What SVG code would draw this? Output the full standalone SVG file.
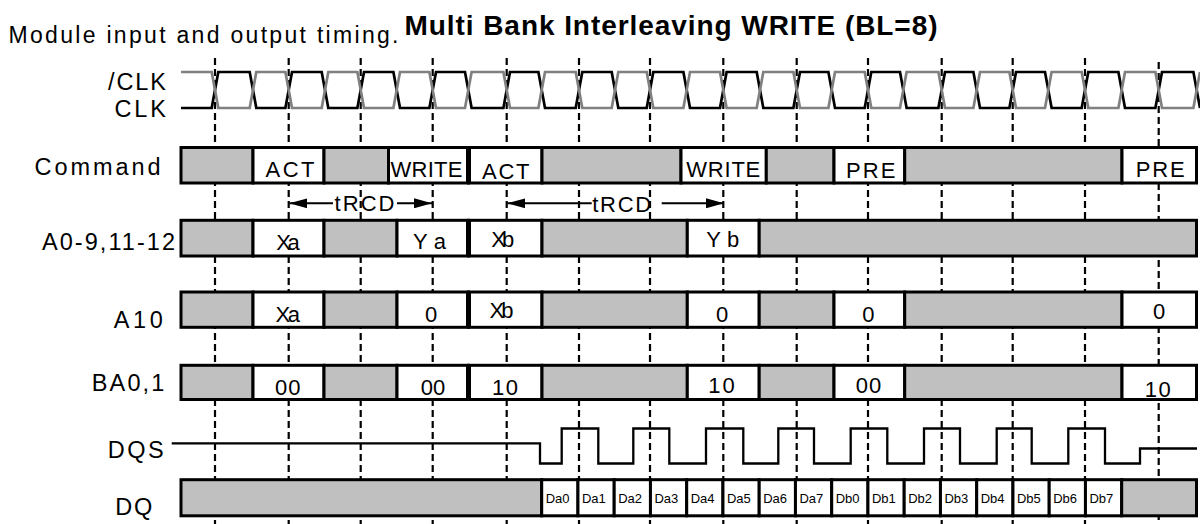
<svg xmlns="http://www.w3.org/2000/svg" width="1200" height="524" viewBox="0 0 1200 524">
<style>
text{font-family:"Liberation Sans",Arial,Helvetica,sans-serif;fill:#000}
.lbl{font-size:23.5px}
.ct{font-size:22px}
.dqt{font-size:13px}
.g{fill:#c0c0c0;stroke:#000;stroke-width:3}
.w{fill:#fff;stroke:#000;stroke-width:3}
.div{stroke:#000;stroke-width:5}
.grid{stroke:#000;stroke-width:2.2;stroke-dasharray:7 4;fill:none}
.clk{fill:none;stroke-width:2.7;stroke-linejoin:miter}
.sig{fill:none;stroke:#000;stroke-width:2.3}
.arr{stroke:#000;stroke-width:2;fill:none}
</style>
<defs>
<marker id="ah" markerUnits="userSpaceOnUse" markerWidth="18" markerHeight="10" refX="18" refY="5" orient="auto">
<path d="M0,0 L18,5 L0,10 z" fill="#000"/>
</marker>
</defs>
<rect width="1200" height="524" fill="#fff"/>
<text x="8.5" y="43.3" font-size="23" textLength="390">Module input and output timing.</text>
<text x="404.5" y="35" font-size="28" font-weight="bold" textLength="533">Multi Bank Interleaving WRITE (BL=8)</text>

<g id="grid" class="grid">
<line x1="215" y1="58" x2="215" y2="524"/>
<line x1="288.7" y1="58" x2="288.7" y2="524"/>
<line x1="360.7" y1="58" x2="360.7" y2="524"/>
<line x1="432.7" y1="58" x2="432.7" y2="524"/>
<line x1="506.7" y1="58" x2="506.7" y2="524"/>
<line x1="579" y1="58" x2="579" y2="524"/>
<line x1="650" y1="58" x2="650" y2="524"/>
<line x1="723.3" y1="58" x2="723.3" y2="524"/>
<line x1="796.7" y1="58" x2="796.7" y2="524"/>
<line x1="868" y1="58" x2="868" y2="524"/>
<line x1="941.7" y1="58" x2="941.7" y2="524"/>
<line x1="1012.7" y1="58" x2="1012.7" y2="524"/>
<line x1="1085" y1="58" x2="1085" y2="524"/>
<line x1="1158.7" y1="62" x2="1158.7" y2="524"/>
</g>

<g id="clock">
<text class="lbl" x="108" y="90" textLength="58">/CLK</text>
<text class="lbl" x="114.5" y="116.7" textLength="51.5">CLK</text>
<path class="clk" stroke="#000" d="M181,108 H211.7 L218.3,72 H249.7 L256.3,108 H285.4 L292,72 H321.7 L328.3,108 H357.4 L364,72 H393.4 L400,108 H429.4 L436,72 H465 L471.6,108 H503.4 L510,72 H538.4 L545,108 H575.7 L582.3,72 H611.7 L618.3,108 H646.7 L653.3,72 H683.4 L690,108 H720 L726.6,72 H756.7 L763.3,108 H793.4 L800,72 H828.4 L835,108 H864.7 L871.3,72 H900 L906.6,108 H938.4 L945,72 H973.4 L980,108 H1009.4 L1016,72 H1045 L1051.6,108 H1081.7 L1088.3,72 H1118.4 L1125,108 H1155.4 L1162,72 H1193.4 L1200,108"/>
<path class="clk" stroke="#808080" d="M181,72 H211.7 L218.3,108 H249.7 L256.3,72 H285.4 L292,108 H321.7 L328.3,72 H357.4 L364,108 H393.4 L400,72 H429.4 L436,108 H465 L471.6,72 H503.4 L510,108 H538.4 L545,72 H575.7 L582.3,108 H611.7 L618.3,72 H646.7 L653.3,108 H683.4 L690,72 H720 L726.6,108 H756.7 L763.3,72 H793.4 L800,108 H828.4 L835,72 H864.7 L871.3,108 H900 L906.6,72 H938.4 L945,108 H973.4 L980,72 H1009.4 L1016,108 H1045 L1051.6,72 H1081.7 L1088.3,108 H1118.4 L1125,72 H1155.4 L1162,108 H1193.4 L1200,72"/>
</g>

<g id="command">
<text class="lbl" x="34.5" y="175" textLength="126">Command</text>
<rect class="g" x="181" y="147.5" width="72" height="35.5"/>
<rect class="w" x="253" y="147.5" width="71" height="35.5"/>
<rect class="g" x="324" y="147.5" width="64.5" height="35.5"/>
<rect class="w" x="388.5" y="147.5" width="80" height="35.5"/>
<rect class="w" x="468.5" y="147.5" width="73.5" height="35.5"/>
<rect class="g" x="542" y="147.5" width="139" height="35.5"/>
<rect class="w" x="681" y="147.5" width="85.3" height="35.5"/>
<rect class="g" x="766.3" y="147.5" width="67.7" height="35.5"/>
<rect class="w" x="834" y="147.5" width="70.7" height="35.5"/>
<rect class="g" x="904.7" y="147.5" width="217.3" height="35.5"/>
<rect class="w" x="1122" y="147.5" width="74.5" height="35.5"/>
<line class="div" x1="468.5" y1="147.5" x2="468.5" y2="183"/>
<text class="ct" x="265.5" y="177.3" textLength="49">ACT</text>
<text class="ct" x="390.5" y="176.7" textLength="72">WRITE</text>
<text class="ct" x="482" y="179" textLength="47.5">ACT</text>
<text class="ct" x="686.3" y="176.7" textLength="74">WRITE</text>
<text class="ct" x="846" y="178.3" textLength="49.5">PRE</text>
<text class="ct" x="1135.7" y="176.7" textLength="49">PRE</text>
</g>

<g id="a0-9">
<text class="lbl" x="42" y="250" textLength="133">A0-9,11-12</text>
<rect class="g" x="181" y="220.3" width="72" height="35.7"/>
<rect class="w" x="253" y="220.3" width="71" height="35.7"/>
<rect class="g" x="324" y="220.3" width="73" height="35.7"/>
<rect class="w" x="397" y="220.3" width="71.5" height="35.7"/>
<rect class="w" x="468.5" y="220.3" width="73.5" height="35.7"/>
<rect class="g" x="542" y="220.3" width="145.3" height="35.7"/>
<rect class="w" x="687.3" y="220.3" width="71.9" height="35.7"/>
<rect class="g" x="759.2" y="220.3" width="437.3" height="35.7"/>
<line class="div" x1="468.5" y1="220.3" x2="468.5" y2="256"/>
<text class="ct" x="276.3" y="250" textLength="23.5">Xa</text>
<text class="ct" x="413" y="249.3" textLength="33">Ya</text>
<text class="ct" x="491.3" y="247.3" textLength="23">Xb</text>
<text class="ct" x="706.3" y="247.3" textLength="33">Yb</text>
</g>

<g id="a10">
<text class="lbl" x="113.8" y="328.3" textLength="49">A10</text>
<rect class="g" x="181" y="292" width="72" height="35.3"/>
<rect class="w" x="253" y="292" width="71" height="35.3"/>
<rect class="g" x="324" y="292" width="73" height="35.3"/>
<rect class="w" x="397" y="292" width="71.5" height="35.3"/>
<rect class="w" x="468.5" y="292" width="73.5" height="35.3"/>
<rect class="g" x="542" y="292" width="145.3" height="35.3"/>
<rect class="w" x="687.3" y="292" width="71.9" height="35.3"/>
<rect class="g" x="759.2" y="292" width="74.8" height="35.3"/>
<rect class="w" x="834" y="292" width="70.7" height="35.3"/>
<rect class="g" x="904.7" y="292" width="217.3" height="35.3"/>
<rect class="w" x="1122" y="292" width="74.5" height="35.3"/>
<line class="div" x1="468.5" y1="292" x2="468.5" y2="327.3"/>
<text class="ct" x="275.6" y="321.7" textLength="24.5">Xa</text>
<text class="ct" x="431" y="321.7" text-anchor="middle">0</text>
<text class="ct" x="489.6" y="318.3" textLength="24">Xb</text>
<text class="ct" x="722" y="321.7" text-anchor="middle">0</text>
<text class="ct" x="868.3" y="321.7" text-anchor="middle">0</text>
<text class="ct" x="1159.2" y="319.3" text-anchor="middle">0</text>
</g>

<g id="ba0-1">
<text class="lbl" x="91.8" y="390.5" textLength="72.5">BA0,1</text>
<rect class="g" x="181" y="365.3" width="72" height="34.2"/>
<rect class="w" x="253" y="365.3" width="71" height="34.2"/>
<rect class="g" x="324" y="365.3" width="73" height="34.2"/>
<rect class="w" x="397" y="365.3" width="71.5" height="34.2"/>
<rect class="w" x="468.5" y="365.3" width="73.5" height="34.2"/>
<rect class="g" x="542" y="365.3" width="145.3" height="34.2"/>
<rect class="w" x="687.3" y="365.3" width="71.9" height="34.2"/>
<rect class="g" x="759.2" y="365.3" width="74.8" height="34.2"/>
<rect class="w" x="834" y="365.3" width="70.7" height="34.2"/>
<rect class="g" x="904.7" y="365.3" width="217.3" height="34.2"/>
<rect class="w" x="1122" y="365.3" width="74.5" height="34.2"/>
<line class="div" x1="468.5" y1="365.3" x2="468.5" y2="399.5"/>
<text class="ct" x="275" y="395" textLength="25.5">00</text>
<text class="ct" x="420.7" y="395" textLength="24.5">00</text>
<text class="ct" x="492" y="395" textLength="26">10</text>
<text class="ct" x="708.2" y="393.3" textLength="26.5">10</text>
<text class="ct" x="855.7" y="393.3" textLength="25.5">00</text>
<text class="ct" x="1144.8" y="397.3" textLength="26">10</text>
</g>

<g id="dqs">
<text class="lbl" x="107.8" y="458.3" textLength="56">DQS</text>
<path class="sig" d="M171.7,443.3 H540 V463.5 H561.7 V428.5 H598.3 V463.5 H633.3 V428.5 H669.3 V463.5 H706 V428.5 H743.3 V463.5 H778.3 V428.5 H814 V463.5 H850.7 V428.5 H887.3 V463.5 H924 V428.5 H960 V463.5 H996.7 V428.5 H1031.7 V463.5 H1068.3 V428.5 H1105 V463.5 H1140 V448.5 H1197"/>
</g>

<g id="dq">
<text class="lbl" x="115.2" y="514.5" textLength="37">DQ</text>
<rect class="g" x="181" y="479.7" width="360.7" height="36.1"/>
<rect class="w" x="541.7" y="479.7" width="36.25" height="36.1"/>
<rect class="w" x="577.95" y="479.7" width="36.25" height="36.1"/>
<rect class="w" x="614.2" y="479.7" width="36.25" height="36.1"/>
<rect class="w" x="650.45" y="479.7" width="36.25" height="36.1"/>
<rect class="w" x="686.7" y="479.7" width="36.25" height="36.1"/>
<rect class="w" x="722.95" y="479.7" width="36.25" height="36.1"/>
<rect class="w" x="759.2" y="479.7" width="36.25" height="36.1"/>
<rect class="w" x="795.45" y="479.7" width="36.25" height="36.1"/>
<rect class="w" x="831.7" y="479.7" width="36.25" height="36.1"/>
<rect class="w" x="867.95" y="479.7" width="36.25" height="36.1"/>
<rect class="w" x="904.2" y="479.7" width="36.25" height="36.1"/>
<rect class="w" x="940.45" y="479.7" width="36.25" height="36.1"/>
<rect class="w" x="976.7" y="479.7" width="36.25" height="36.1"/>
<rect class="w" x="1012.95" y="479.7" width="36.25" height="36.1"/>
<rect class="w" x="1049.2" y="479.7" width="36.25" height="36.1"/>
<rect class="w" x="1085.45" y="479.7" width="36.25" height="36.1"/>
<rect class="g" x="1121.7" y="479.7" width="74.8" height="36.1"/>
<text class="dqt" x="545.7" y="503.3">Da0</text>
<text class="dqt" x="581.95" y="503.3">Da1</text>
<text class="dqt" x="618.2" y="503.3">Da2</text>
<text class="dqt" x="654.45" y="503.3">Da3</text>
<text class="dqt" x="690.7" y="503.3">Da4</text>
<text class="dqt" x="726.95" y="503.3">Da5</text>
<text class="dqt" x="763.2" y="503.3">Da6</text>
<text class="dqt" x="799.45" y="503.3">Da7</text>
<text class="dqt" x="835.7" y="503.3">Db0</text>
<text class="dqt" x="871.95" y="503.3">Db1</text>
<text class="dqt" x="908.2" y="503.3">Db2</text>
<text class="dqt" x="944.45" y="503.3">Db3</text>
<text class="dqt" x="980.7" y="503.3">Db4</text>
<text class="dqt" x="1016.95" y="503.3">Db5</text>
<text class="dqt" x="1053.2" y="503.3">Db6</text>
<text class="dqt" x="1089.45" y="503.3">Db7</text>
</g>

<g id="connectors">
<line class="arr" x1="333" y1="203.3" x2="289.3" y2="203.3" marker-end="url(#ah)"/>
<line class="arr" x1="397" y1="203.3" x2="432" y2="203.3" marker-end="url(#ah)"/>
<text class="ct" x="334.5" y="211" font-size="22.5" textLength="60">tRCD</text>
<line class="arr" x1="591.7" y1="203.3" x2="507.3" y2="203.3" marker-end="url(#ah)"/>
<line class="arr" x1="661.7" y1="203.3" x2="724" y2="203.3" marker-end="url(#ah)"/>
<text class="ct" x="592.2" y="211.7" font-size="22.5" textLength="59">tRCD</text>
</g>
</svg>
